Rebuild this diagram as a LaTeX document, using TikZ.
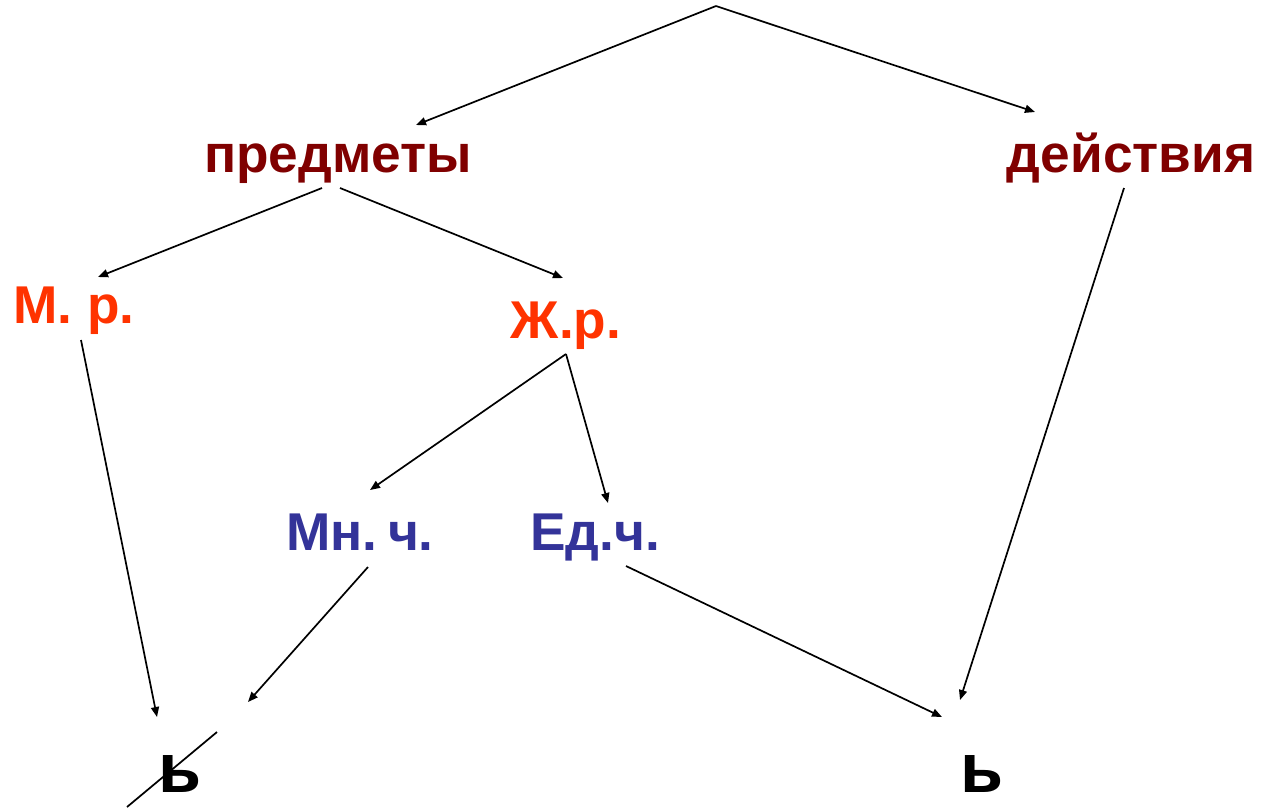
\documentclass[tikz,border=0pt]{standalone}
\usepackage{fontspec}
\setmainfont{Liberation Sans}
\usepackage{tikz}
\usetikzlibrary{calc,arrows.meta}
\definecolor{darkred}{HTML}{800000}
\definecolor{orangered}{HTML}{FF3300}
\definecolor{darkblue}{HTML}{333399}

\begin{document}
\begin{tikzpicture}[
  x=0.5pt, y=-0.5pt,
  every node/.style={inner sep=0pt, anchor=base, font=\fontsize{26.6}{30}\selectfont\bfseries},
  top/.style={text=darkred},
  gender/.style={text=orangered},
  number/.style={text=darkblue},
  soft/.style={text=black, font=\fontsize{35}{40}\selectfont\bfseries},
  arr/.style={draw, line width=0.85pt, -{Triangle[length=5pt,width=4pt]}}
]
\useasboundingbox (0,0) rectangle (1263,810);
\coordinate (apex) at (716,6);
% words
\node[top] (pred) at (338,172) {предметы};
\node[top] (deist) at (1131,172) {действия};
\node[gender] (mr) at (74,323) {М. р.};
\node[gender] (zhr) at (566,338) {Ж.р.};
\node[number] (mn) at (360,550) {Мн.\hspace{0.2em}ч.};
\node[number] (ed) at (595,550) {Ед.ч.};
\node[soft] (soft1) at (180,792) {ь};
\node[soft] (soft2) at (982,792) {ь};
% arrows
\draw[arr] (apex) -- ($(pred.base)+(78,-47)$);
\draw[arr] (apex) -- ($(deist.base)+(-96,-60)$);
\draw[arr] ($(pred.base)+(-16,16)$) -- ($(mr.base)+(24,-46)$);
\draw[arr] ($(pred.base)+(2,16)$) -- ($(zhr.base)+(-3,-60)$);
\draw[arr] ($(mr.base)+(7,17)$) -- ($(soft1.base)+(-23,-75)$);
\draw[arr] ($(zhr.base)+(0,16)$) -- ($(mn.base)+(10,-60)$);
\draw[arr] ($(zhr.base)+(0,16)$) -- ($(ed.base)+(13,-47)$);
\draw[arr] ($(mn.base)+(8,17)$) -- ($(soft1.base)+(68,-90)$);
\draw[arr] ($(ed.base)+(31,16)$) -- ($(soft2.base)+(-40,-75)$);
\draw[arr] ($(deist.base)+(-7,16)$) -- ($(soft2.base)+(-22,-92)$);
% crossed out
\draw[line width=0.85pt] ($(soft1.base)+(-53,15)$) -- ($(soft1.base)+(37,-60)$);
\end{tikzpicture}
\end{document}
